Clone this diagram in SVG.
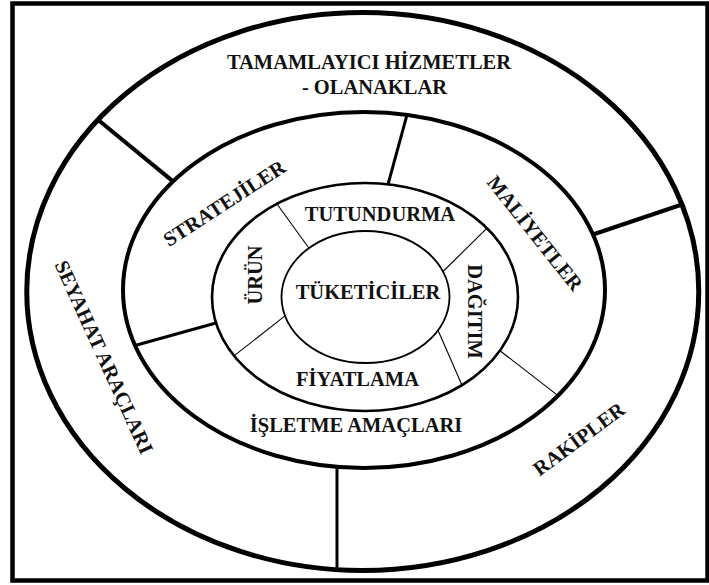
<svg xmlns="http://www.w3.org/2000/svg" width="709" height="585" viewBox="0 0 709 585">
<style>
  .t { font-family: "Liberation Serif", "Times New Roman", serif; font-weight: bold; font-size: 20.5px; fill: #111; }
  .m { text-anchor: middle; }
  .ring { fill: none; stroke: #000; }
  .thick { stroke: #000; stroke-width: 4; fill: none; }
  .med { stroke: #000; stroke-width: 3; fill: none; }
  .thin { stroke: #000; stroke-width: 1.1; fill: none; }
</style>
<rect x="0" y="0" width="709" height="585" fill="#fff"/>
<rect id="frame" x="12.5" y="3.5" width="695" height="577" fill="none" stroke="#000" stroke-width="4.5"/>

<g id="outer-ring">
  <ellipse class="ring" cx="362.75" cy="291.5" rx="336" ry="279" stroke-width="5"/>
  <text class="t m" x="369" y="69">TAMAMLAYICI HİZMETLER</text>
  <text class="t m" x="374.5" y="94">- OLANAKLAR</text>
  <text class="t m" transform="translate(97.7 360) rotate(65.5)">SEYAHAT ARAÇLARI</text>
  <text class="t m" transform="translate(583 444.6) rotate(-36.5)">RAKİPLER</text>
</g>

<g id="middle-ring">
  <ellipse class="ring" cx="364" cy="290" rx="241" ry="178" stroke-width="4"/>
  <text class="t m" transform="translate(228 209) rotate(-33)">STRATEJİLER</text>
  <text class="t m" transform="translate(529.5 237.4) rotate(51.5)">MALİYETLER</text>
  <text class="t m" x="356" y="431.5">İŞLETME AMAÇLARI</text>
</g>

<g id="inner-ring">
  <ellipse class="ring" cx="365" cy="297" rx="153" ry="114" stroke-width="2.6"/>
  <text class="t m" x="380" y="221">TUTUNDURMA</text>
  <text class="t m" x="357.5" y="386">FİYATLAMA</text>
  <text class="t m" transform="translate(262 275) rotate(-90)">ÜRÜN</text>
  <text class="t m" transform="translate(467.5 311.5) rotate(90)">DAĞITIM</text>
</g>

<g id="core">
  <ellipse class="ring" cx="365.5" cy="297" rx="84" ry="66" stroke-width="1.8"/>
  <text class="t m" x="368" y="299">TÜKETİCİLER</text>
</g>

<g id="connectors">
  <line class="thick" x1="98" y1="119.7" x2="173" y2="181.4"/>
  <line class="thick" x1="593" y1="234.5" x2="682" y2="204.5"/>
  <line class="med" x1="337" y1="466.9" x2="337" y2="569.7"/>
  <line class="med" x1="407" y1="114.8" x2="388" y2="184.3"/>
  <line class="med" x1="135" y1="345.5" x2="216" y2="323"/>
  <line class="thin" x1="500" y1="350.7" x2="558" y2="395.6"/>
  <line class="thin" x1="277" y1="204" x2="309" y2="248.2"/>
  <line class="thin" x1="487" y1="228.2" x2="443" y2="271.5"/>
  <line class="thin" x1="234" y1="355.9" x2="285" y2="315.9"/>
  <line class="thin" x1="438" y1="330.3" x2="462" y2="385.2"/>
</g>
</svg>
